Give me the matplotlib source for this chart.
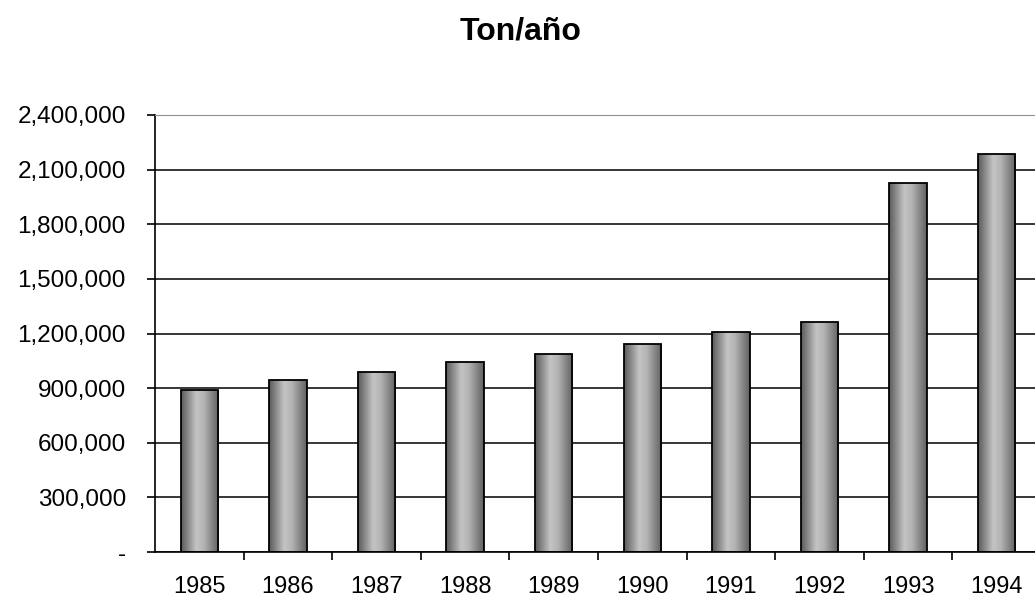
'''
Ton/año bar chart, 1985-1994
'''

import numpy as np
import matplotlib.pyplot as plt
from matplotlib.colors import LinearSegmentedColormap
from matplotlib.ticker import FuncFormatter, MultipleLocator

# data
years = ["1985", "1986", "1987", "1988", "1989", "1990", "1991", "1992", "1993", "1994"]
tons = [890000, 945000, 990000, 1045000, 1088000, 1142000, 1208000, 1263000, 2027000, 2186000]

plt.rcParams["font.family"] = ["Liberation Sans", "DejaVu Sans"]

fig = plt.figure(figsize=(10.35, 6.01), dpi=100)
ax = fig.add_axes([155 / 1035, 1 - 552 / 601, 886 / 1035, 437 / 601])

x = np.arange(len(years))
bars = ax.bar(x, tons, width=0.42, facecolor="none", edgecolor="black", linewidth=1.3, zorder=3)

# cylinder-like gray shading on every bar
shade = LinearSegmentedColormap.from_list(
    "shade", ["#5a5a5a", "#8e8e8e", "#c4c4c4", "#b4b4b4", "#8a8a8a", "#606060"])
grad = np.linspace(0, 1, 256).reshape(1, -1)
for b in bars:
    x0, y0 = b.get_x(), b.get_y()
    im = ax.imshow(grad, cmap=shade, aspect="auto", zorder=2,
                   extent=[x0, x0 + b.get_width(), y0, y0 + b.get_height()])
    im.set_clip_path(b)

ax.set_xlim(-0.5, len(years) - 0.5)
ax.set_ylim(0, 2400000)

# y axis
ax.yaxis.set_major_locator(MultipleLocator(300000))
ax.yaxis.set_major_formatter(FuncFormatter(lambda v, p: "-" if v == 0 else f"{v:,.0f}"))
ax.tick_params(axis="y", direction="out", length=6, width=1.2, pad=15, labelsize=17.5, colors="black")
ax.grid(axis="y", color="black", linewidth=1.1, zorder=1)

# x axis: ticks between categories, labels centred
ax.set_xticks(x)
ax.set_xticklabels(years)
ax.set_xticks(np.arange(len(years)) + 0.5, minor=True)
ax.tick_params(axis="x", which="major", length=0, pad=17, labelsize=17)
ax.tick_params(axis="x", which="minor", direction="out", length=6, width=1.2)

for s in ["left", "bottom"]:
    ax.spines[s].set_color("black")
    ax.spines[s].set_linewidth(1.2)
ax.spines["top"].set_color("#909090")
ax.spines["right"].set_visible(False)

fig.text(521 / 1035, 1 - 31 / 601, "Ton/año", ha="center", va="center",
         fontsize=23, fontweight="bold")

fig.savefig("out.png", dpi=100)
